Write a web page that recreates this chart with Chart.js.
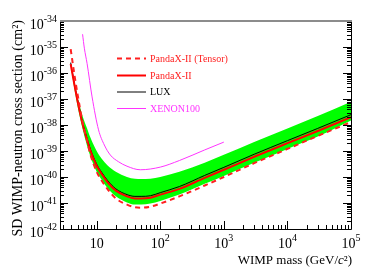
<!DOCTYPE html>
<html>
<head>
<meta charset="utf-8">
<script src="https://cdn.jsdelivr.net/npm/chart.js@4.4.0/dist/chart.umd.min.js"></script>
<style>
html, body { margin: 0; padding: 0; background: #fff; }
#wrap { width: 374px; height: 268px; }
</style>
</head>
<body>
<div id="wrap"><canvas id="c" width="374" height="268"></canvas></div>
<script>
// ---- DATA ----
const mass = [3.9, 4.5, 5, 6, 7, 8, 10, 12, 15, 20, 30, 40, 50, 70, 100, 200, 500, 1000, 3000, 1e4, 3e4, 1e5];

const pandaxTensor = [8.3e-36, 7.6e-37, 1.55e-37, 1.3e-38, 2.7e-39, 7.1e-40, 1.6e-40, 7.2e-41, 3.3e-41, 1.5e-41, 8.7e-42, 6.9e-42, 6.6e-42, 7.2e-42, 9.5e-42, 1.8e-41, 4.7e-41, 1.0e-40, 3.4e-40, 1.2e-39, 3.8e-39, 1.3e-38];
const pandax = [2.2e-36, 3.2e-37, 8.4e-38, 1.1e-38, 2.9e-39, 1.0e-39, 2.7e-40, 1.3e-40, 6.1e-41, 3.0e-41, 1.8e-41, 1.5e-41, 1.5e-41, 1.6e-41, 2.1e-41, 3.5e-41, 9.3e-41, 1.9e-40, 6.0e-40, 2.0e-39, 5.9e-39, 2.0e-38];
const lux = [2.5e-36, 3.6e-37, 9.6e-38, 1.25e-38, 3.3e-39, 1.15e-39, 3.1e-40, 1.5e-40, 7.1e-41, 3.5e-41, 2.1e-41, 1.8e-41, 1.8e-41, 1.9e-41, 2.5e-41, 4.3e-41, 1.15e-40, 2.35e-40, 7.5e-40, 2.5e-39, 7.4e-39, 2.5e-38];

// sensitivity band edges
const bandHigh = [2.2e-36, 3.7e-37, 1.2e-37, 2.2e-38, 7.8e-39, 3.2e-39, 1.0e-39, 5.0e-40, 2.7e-40, 1.6e-40, 1.0e-40, 8.5e-41, 8.3e-41, 8.5e-41, 1.0e-40, 1.6e-40, 3.5e-40, 7.1e-40, 2.2e-39, 7.4e-39, 2.2e-38, 7.8e-38];
const bandLow = [1.8e-36, 2.2e-37, 5.4e-38, 7.1e-39, 1.7e-39, 6.0e-40, 1.6e-40, 7.9e-41, 3.6e-41, 1.8e-41, 1.05e-41, 8.7e-42, 8.7e-42, 9.5e-42, 1.2e-41, 2.1e-41, 5.5e-41, 1.1e-40, 3.5e-40, 1.2e-39, 3.6e-39, 1.5e-38];

const xenonMass = [6.0, 6.4, 7.07, 8.47, 10.7, 13.2, 16.4, 21.9, 30, 48.5, 100, 200, 500, 1000];
const xenon100 = [3.1e-35, 9e-36, 2.3e-36, 1.2e-37, 6.5e-39, 1.7e-39, 7e-40, 3.9e-40, 2.6e-40, 1.9e-40, 2.4e-40, 4.3e-40, 1.1e-39, 2.2e-39];

// tick label exponents
const xTickExps = [1, 2, 3, 4, 5];
const yTickExps = [-42, -41, -40, -39, -38, -37, -36, -35, -34];

const legendNames = ["PandaX-II (Tensor)", "PandaX-II", "LUX", "XENON100"];

function pts(xs, ys) {
    return xs.map((m, i) => ({ x: m, y: ys[i] }));
}

const SERIF = "'Liberation Serif', 'DejaVu Serif', serif";

// ---- ROOT-like frame, ticks, labels, legend ----
const rootStyle = {
    id: "rootStyle",
    afterDraw(chart) {
        const ctx = chart.ctx;
        const a = chart.chartArea;
        const xs = chart.scales.x;
        const ys = chart.scales.y;
        ctx.save();

        // ticks
        ctx.strokeStyle = "#000";
        ctx.lineWidth = 1;
        ctx.beginPath();
        for (let k = -42; k < -34; k++) {
            for (let j = 1; j <= 9; j++) {
                const py = Math.round(ys.getPixelForValue(j * Math.pow(10, k))) + 0.5;
                const len = j === 1 ? 8 : 4;
                ctx.moveTo(a.left, py); ctx.lineTo(a.left + len, py);
                ctx.moveTo(a.right, py); ctx.lineTo(a.right - len, py);
            }
        }
        for (let k = 0; k < 5; k++) {
            for (let j = 1; j <= 9; j++) {
                const v = j * Math.pow(10, k);
                if (v < xs.min || v > xs.max) continue;
                const px = Math.round(xs.getPixelForValue(v)) + 0.5;
                const len = j === 1 ? 8 : 4;
                ctx.moveTo(px, a.bottom); ctx.lineTo(px, a.bottom - len);
            }
        }
        ctx.stroke();

        // frame
        ctx.beginPath();
        ctx.moveTo(a.left + 0.5, a.top);
        ctx.lineTo(a.left + 0.5, a.bottom + 0.5);
        ctx.lineTo(a.right + 0.5, a.bottom + 0.5);
        ctx.lineTo(a.right + 0.5, a.top);
        ctx.stroke();
        ctx.strokeStyle = "#8c8c8c";
        ctx.lineWidth = 2;
        ctx.beginPath();
        ctx.moveTo(a.left, a.top);
        ctx.lineTo(a.right + 1, a.top);
        ctx.stroke();

        // tick labels 10^n
        ctx.fillStyle = "#000";
        ctx.textBaseline = "alphabetic";
        const baseFont = "14px " + SERIF;
        const expFont = "10px " + SERIF;
        function power(exp, x, y, align) {
            const expTxt = exp === 1 ? "" : String(exp);
            ctx.font = baseFont;
            const wb = ctx.measureText("10").width;
            ctx.font = expFont;
            const we = ctx.measureText(expTxt).width;
            let x0 = align === "right" ? x - wb - we : x - (wb + we) / 2;
            ctx.textAlign = "left";
            ctx.font = baseFont;
            ctx.fillText("10", x0, y);
            ctx.font = expFont;
            ctx.fillText(expTxt, x0 + wb, y - 7);
        }
        for (const e of yTickExps) {
            const py = ys.getPixelForValue(Math.pow(10, e));
            power(e, a.left - 3, py + 8, "right");
        }
        for (const e of xTickExps) {
            const px = xs.getPixelForValue(Math.pow(10, e));
            power(e, px, 248, "center");
        }

        // y title
        ctx.save();
        ctx.translate(18, 0);
        ctx.rotate(-Math.PI / 2);
        ctx.font = "14px " + SERIF;
        ctx.textAlign = "right";
        ctx.textBaseline = "middle";
        ctx.fillText("SD WIMP-neutron cross section (cm\u00b2)", -a.top + 1, 0);
        ctx.restore();

        // x title, with italic c
        ctx.textBaseline = "alphabetic";
        ctx.textAlign = "left";
        const parts = [
            ["WIMP mass (GeV/", "13px " + SERIF],
            ["c", "italic 13px " + SERIF],
            ["\u00b2)", "13px " + SERIF]
        ];
        let total = 0;
        for (const p of parts) { ctx.font = p[1]; total += ctx.measureText(p[0]).width; }
        let tx = a.right + 1 - total;
        for (const p of parts) {
            ctx.font = p[1];
            ctx.fillText(p[0], tx, 264);
            tx += ctx.measureText(p[0]).width;
        }

        // legend
        const rows = [58.5, 75.5, 92, 108.5];
        ctx.font = "10px " + SERIF;
        ctx.textBaseline = "middle";
        legendNames.forEach((name, i) => {
            const ds = chart.data.datasets[i];
            ctx.strokeStyle = ds.borderColor;
            ctx.lineWidth = ds.borderWidth;
            ctx.setLineDash(ds.borderDash || []);
            ctx.beginPath();
            ctx.moveTo(117, rows[i]);
            ctx.lineTo(146, rows[i]);
            ctx.stroke();
            ctx.setLineDash([]);
            ctx.fillStyle = ds.textColor;
            ctx.fillText(name, 150, rows[i] + 0.5);
        });

        ctx.restore();
    }
};

const lineBase = {
    pointRadius: 0,
    fill: false,
    cubicInterpolationMode: "monotone"
};

new Chart(document.getElementById("c"), {
    type: "line",
    data: {
        datasets: [
            Object.assign({ label: legendNames[0], data: pts(mass, pandaxTensor), borderColor: "#ff2020", borderWidth: 2, borderDash: [5, 4], textColor: "#ff2020" }, lineBase),
            Object.assign({ label: legendNames[1], data: pts(mass, pandax), borderColor: "#ff0000", borderWidth: 2, textColor: "#ff2020" }, lineBase),
            Object.assign({ label: legendNames[2], data: pts(mass, lux), borderColor: "#000000", borderWidth: 1, textColor: "#000000" }, lineBase),
            Object.assign({ label: legendNames[3], data: pts(xenonMass, xenon100), borderColor: "#ff33ff", borderWidth: 1, textColor: "#ff33ff" }, lineBase),
            Object.assign({ label: "band low", data: pts(mass, bandLow), borderWidth: 0, borderColor: "rgba(0,0,0,0)" }, lineBase),
            Object.assign({}, lineBase, { label: "band high", data: pts(mass, bandHigh), borderWidth: 0, borderColor: "rgba(0,0,0,0)", backgroundColor: "#00ff00", fill: "-1" })
        ]
    },
    options: {
        responsive: false,
        animation: false,
        devicePixelRatio: 1,
        parsing: true,
        layout: { padding: { left: 60, top: 21, right: 23, bottom: 39 } },
        scales: {
            x: { type: "logarithmic", min: 2.65, max: 1e5, display: false },
            y: { type: "logarithmic", min: 1e-42, max: 1e-34, display: false }
        },
        plugins: {
            legend: { display: false },
            tooltip: { enabled: false }
        }
    },
    plugins: [rootStyle]
});
</script>
</body>
</html>
